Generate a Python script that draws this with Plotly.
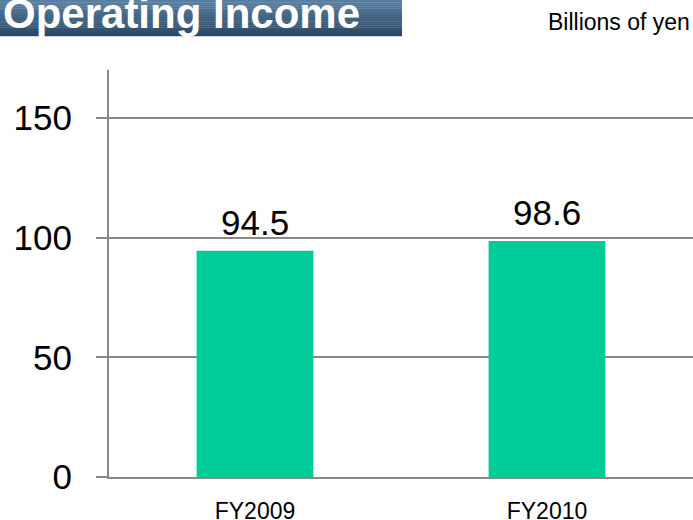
import plotly.graph_objects as go

categories = ["FY2009", "FY2010"]
values = [94.5, 98.6]
value_labels = ["94.5", "98.6"]
tick_vals = [0, 50, 100, 150]
tick_text = ["0", "50", "100", "150"]
title_text = "Operating Income"
unit_text = "Billions of yen"

W, H = 693, 520
ML, MR, MT, MB = 109, 0, 70, 43
PW, PH = W - ML - MR, H - MT - MB

def px_x(p):
    return (p - ML) / PW

def px_y(p):
    return 1 - (p - MT) / PH

fig = go.Figure()
fig.add_trace(go.Bar(
    x=categories, y=values,
    marker=dict(color="#00CC99", line=dict(width=0)),
    hoverinfo="skip",
))

shapes = []
# gradient title box
top_c = (0x5c, 0x82, 0xa4)
bot_c = (0x2c, 0x48, 0x66)
n = 18
box_top, box_bot, box_right = -2, 36, 402
for i in range(n):
    t = i / (n - 1)
    c = tuple(int(round(top_c[k] + (bot_c[k] - top_c[k]) * t)) for k in range(3))
    y0 = box_top + (box_bot - box_top) * i / n
    y1 = box_top + (box_bot - box_top) * (i + 1) / n
    shapes.append(dict(type="rect", xref="paper", yref="paper",
                       x0=px_x(0), x1=px_x(box_right),
                       y0=px_y(y1 + 0.3), y1=px_y(y0),
                       fillcolor="rgb(%d,%d,%d)" % c, line=dict(width=0), layer="above"))

annotations = []
for c, v, s in zip(categories, values, value_labels):
    annotations.append(dict(x=c, y=v, text=s, showarrow=False, yanchor="bottom",
                            yshift=7, font=dict(family="Arial, Liberation Sans", size=35, color="#000000")))
annotations.append(dict(xref="paper", yref="paper", x=px_x(1), y=px_y(14),
                        xanchor="left", yanchor="middle", text="<b>%s</b>" % title_text,
                        showarrow=False,
                        font=dict(family="Arial, Liberation Sans", size=42, color="#ffffff")))
annotations.append(dict(xref="paper", yref="paper", x=px_x(692), y=px_y(22),
                        xanchor="right", yanchor="middle", text=unit_text, showarrow=False,
                        font=dict(family="Arial, Liberation Sans", size=23, color="#000000")))

fig.update_layout(
    width=W, height=H,
    margin=dict(l=ML, r=MR, t=MT, b=MB, pad=0, autoexpand=False),
    paper_bgcolor="white", plot_bgcolor="white",
    showlegend=False,
    bargap=0.6,
    shapes=shapes,
    annotations=annotations,
    xaxis=dict(
        showgrid=False, showline=True, linecolor="#888888", linewidth=2,
        ticks="", tickfont=dict(family="Arial, Liberation Sans", size=23, color="#000000"),
        ticklabelstandoff=12, zeroline=False, automargin=False,
    ),
    yaxis=dict(
        range=[0, 170], tickvals=tick_vals, ticktext=tick_text,
        showgrid=True, gridcolor="#888888", gridwidth=1.5,
        showline=True, linecolor="#888888", linewidth=2,
        ticks="outside", ticklen=11, tickcolor="#888888", tickwidth=1.5,
        tickfont=dict(family="Arial, Liberation Sans", size=35, color="#000000"),
        ticklabelstandoff=17, zeroline=False, automargin=False,
    ),
)

fig.write_html("out.html", config={"displayModeBar": False},
               post_script="document.body.style.margin='0';")
